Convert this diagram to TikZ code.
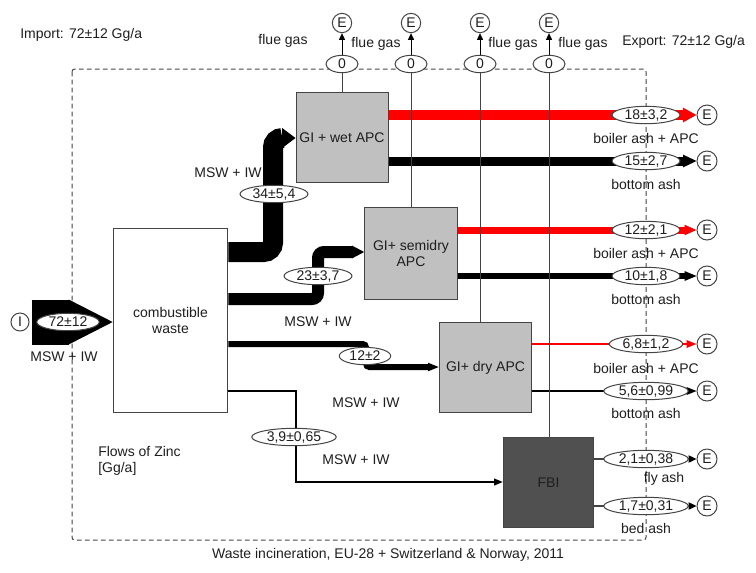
\documentclass[tikz,border=0pt]{standalone}
\usepackage{fontspec}
\setmainfont{Liberation Sans}
\usetikzlibrary{arrows.meta,shapes.geometric}
\definecolor{cBox}{HTML}{C0C0C0}
\definecolor{cFbi}{HTML}{505050}
\definecolor{cInk}{HTML}{1E1E1E}
\definecolor{cLine}{HTML}{444444}
\definecolor{cRed}{HTML}{FF0000}
\tikzset{
  every node/.style={font=\fontsize{10.5}{12}\selectfont, text=cInk},
  proc/.style={draw=cLine, line width=0.75pt, fill=cBox, align=center, inner sep=1pt},
  val/.style={ellipse, draw=cLine, line width=0.75pt, fill=white, inner xsep=2pt, inner ysep=0.6pt, text height=7pt, text depth=1pt},
  term/.style={circle, draw=cLine, line width=0.75pt, fill=white, minimum size=15pt, inner sep=0pt},
  lbl/.style={inner sep=0pt},
  gasline/.style={draw=cLine, line width=0.75pt},
  gasarr/.style={draw=black, line width=0.75pt, -{Triangle[length=5pt,width=4.5pt]}},
  thinout/.style={draw=cLine, line width=0.9pt, -{Triangle[length=6pt,width=5.5pt,color=black]}},
}
\begin{document}
\begin{tikzpicture}[x=0.75pt,y=-0.75pt]
\useasboundingbox (0,0) rectangle (756,572);
% ---------------- system boundary
\draw[cLine, line width=0.75pt, dash pattern=on 3.5pt off 2.5pt, rounded corners=2pt] (72,69) rectangle (646,540);

% ---------------- processes
\node[proc, fill=white, minimum width=86pt, minimum height=138pt] (cw) at (170.5,320.5) {combustible\\waste};
\node[proc, minimum width=69pt, minimum height=68pt] (wet) at (342,137.5) {GI + wet APC};
\node[proc, minimum width=69.5pt, minimum height=69pt] (semi) at (411,253) {GI+ semidry\\APC};
\node[proc, minimum width=69.5pt, minimum height=68pt] (dry) at (485.5,367.5) {GI+ dry APC};
\node[proc, fill=cFbi, minimum width=68pt, minimum height=68pt] (fbi) at (548.5,482.5) {FBI};

% ---------------- import
\node[term, minimum size=13.5pt] (imp) at (20,322) {I};
\draw[line width=33.75pt, shorten <=1.5pt, -{Triangle[length=33pt,width=33.75pt,line width=0pt]}] (imp.east) -- (imp.east -| cw.west);

% ---------------- waste to incinerators
\draw[line width=15pt, rounded corners=7pt, -{Triangle[length=10pt,width=15pt,line width=0pt]}] (cw.east |- 0,252) -- (273,252) -- (273,138) -- (wet.west |- 0,138);
\draw[line width=9pt, rounded corners=4.5pt, -{Triangle[length=9pt,width=9.5pt,line width=0pt]}] (cw.east |- 0,299) -- (318,299) -- (318,252) -- (semi.west |- 0,252);
\draw[line width=4.5pt, rounded corners=2.5pt, -{Triangle[length=8pt,width=6.5pt,line width=0pt]}] (cw.east |- 0,344) -- (366,344) -- (366,367) -- (dry.west |- 0,367);
\draw[line width=1.5pt, -{Triangle[length=6.5pt,width=5.5pt,line width=0pt]}] (cw.east |- 0,391) -- (296,391) -- (296,482) -- (fbi.west |- 0,482);

% ---------------- residues
\foreach \n/\y in {1/115,2/161,3/230,4/276,5/344,6/391,7/459,8/506}
  \node[term] (o\n) at (707,\y) {E};
\draw[draw=cRed, line width=8pt, -{Triangle[length=10pt,width=11pt,line width=0pt]}] (wet.east |- o1) -- (o1);
\draw[line width=6.75pt, -{Triangle[length=10pt,width=9.5pt,line width=0pt]}] (wet.east |- o2) -- (o2);
\draw[draw=cRed, line width=5.25pt, -{Triangle[length=9pt,width=8pt,line width=0pt]}] (semi.east |- o3) -- (o3);
\draw[line width=4.5pt, -{Triangle[length=9pt,width=7.5pt,line width=0pt]}] (semi.east |- o4) -- (o4);
\draw[draw=cRed, line width=2pt, -{Triangle[length=7.5pt,width=6pt,line width=0pt]}] (dry.east |- o5) -- (o5);
\draw[line width=2pt, -{Triangle[length=7.5pt,width=6pt,line width=0pt]}] (dry.east |- o6) -- (o6);
\draw[thinout] (fbi.east |- o7) -- (o7);
\draw[thinout] (fbi.east |- o8) -- (o8);

% ---------------- flue gas
\foreach \n/\x in {1/342,2/411,3/480,4/549}{
  \node[term, minimum size=14.5pt] (g\n) at (\x,23) {E};
  \node[val, minimum width=24pt] (z\n) at (\x,64) {0};
  \draw[gasarr] (z\n) -- (g\n);
}
\draw[gasline] (z1 |- wet.north) -- (z1);
\draw[gasline] (z2 |- semi.north) -- (z2);
\draw[gasline] (z3 |- dry.north) -- (z3);
\draw[gasline] (z4 |- fbi.north) -- (z4);

% ---------------- flow values
\node[val] (q0) at (68,322) {72±12};
\node[val] (q1) at (274,194) {34±5,4};
\node[val] (q2) at (318,276) {23±3,7};
\node[val] (q3) at (365,356) {12±2};
\node[val] (q4) at (294,437) {3,9±0,65};
\foreach \n/\v in {1/{18±3,2},2/{15±2,7},3/{12±2,1},4/{10±1,8},5/{6,8±1,2},6/{5,6±0,99},7/{2,1±0,38},8/{1,7±0,31}}
  \node[val] (v\n) at (646,0 |- o\n) {\v};

% ---------------- labels
\node[lbl, anchor=west] (imptxt) at (20,35) {Import: 72±12 Gg/a};
\node[lbl, anchor=west] (exptxt) at (622,42) {Export: 72±12 Gg/a};
\node (fg1) at (283,41) {flue gas};
\node (fg2) at (376,44) {flue gas};
\node (fg3) at (513,44) {flue gas};
\node (fg4) at (583,44) {flue gas};
\node (msw0) at (64,357) {MSW + IW};
\node (msw1) at (228,173) {MSW + IW};
\node (msw2) at (318,322) {MSW + IW};
\node (msw3) at (366,403) {MSW + IW};
\node (msw4) at (356,460) {MSW + IW};
\node (ba1) at (646,138) {boiler ash + APC};
\node (bo1) at (646,184) {bottom ash};
\node (ba2) at (646,253) {boiler ash + APC};
\node (bo2) at (646,299) {bottom ash};
\node (ba3) at (646,368) {boiler ash + APC};
\node (bo3) at (646,413) {bottom ash};
\node (fly) at (664,479) {fly ash};
\node (bed) at (646,528) {bed ash};
\node[lbl, anchor=west, align=left] (zinc) at (98,461) {Flows of Zinc\\{}[Gg/a]};
\node (sys) at (388,555) {Waste incineration, EU-28 + Switzerland \& Norway, 2011};
\end{tikzpicture}
\end{document}
